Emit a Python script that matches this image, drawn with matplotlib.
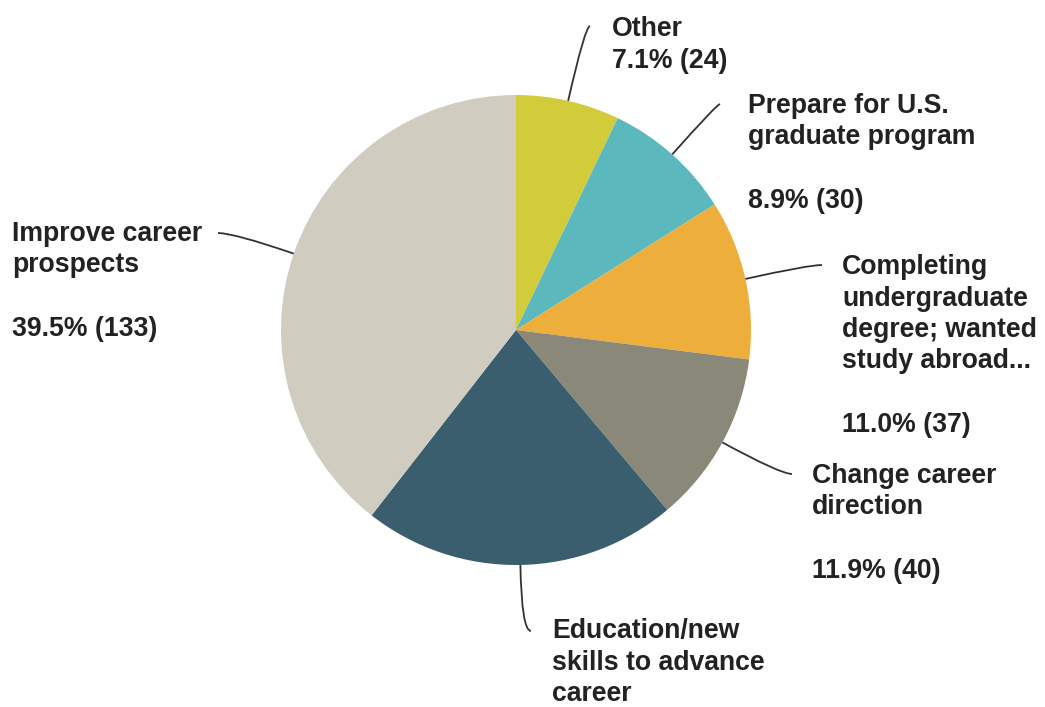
import matplotlib
matplotlib.use('Agg')
import matplotlib.pyplot as plt
import numpy as np
from matplotlib.path import Path
from matplotlib.patches import PathPatch

# --- data ---
categories = ['Other', 'Prepare for U.S. graduate program',
              'Completing undergraduate degree; wanted study abroad...',
              'Change career direction', 'Education/new skills to advance career',
              'Improve career prospects']
counts = [24, 30, 37, 40, 73, 133]
colors = ['#d3cc3a', '#5bb9be', '#edae3b', '#8a8879', '#3a5e6d', '#d0ccc0']

total = sum(counts)
pct = [100.0 * c / total for c in counts]

# label text lines (blank = empty line)
label_lines = [
    ['Other', f'{pct[0]:.1f}% ({counts[0]})'],
    ['Prepare for U.S.', 'graduate program', '', f'{pct[1]:.1f}% ({counts[1]})'],
    ['Completing', 'undergraduate', 'degree; wanted', 'study abroad...', '',
     f'{pct[2]:.1f}% ({counts[2]})'],
    ['Change career', 'direction', '', f'{pct[3]:.1f}% ({counts[3]})'],
    ['Education/new', 'skills to advance', 'career'],
    ['Improve career', 'prospects', '', f'{pct[5]:.1f}% ({counts[5]})'],
]

# --- layout (pixel coords, y down) ---
W, H = 1045, 707
cx, cy, R = 516, 330, 235
label_pos = [(612, 36), (748, 113), (842, 274), (812, 483), (552, 638), (12, 241)]
leader_end = [(590, 26), (720, 104), (822, 265), (792, 474), (531, 631), (218, 233)]
line_step = 31.5

fig = plt.figure(figsize=(W / 100, H / 100), dpi=100)
ax = fig.add_axes([0, 0, 1, 1])

wedges, _ = ax.pie(counts, colors=colors, startangle=90, counterclock=False,
                   center=(cx, H - cy), radius=R, frame=True,
                   wedgeprops=dict(linewidth=0))
ax.set_xlim(0, W)
ax.set_ylim(0, H)
ax.set_aspect('equal')
ax.axis('off')

for w, lines, (lx, ly), (ex, ey) in zip(wedges, label_lines, label_pos, leader_end):
    mid = np.radians((w.theta1 + w.theta2) / 2)
    sx = cx + R * np.cos(mid)
    sy = (H - cy) + R * np.sin(mid)
    ey_d = H - ey
    # control point: radial line meets horizontal through end
    dy = ey_d - sy
    t = dy / np.sin(mid) if abs(np.sin(mid)) > 1e-6 else 0
    ctrl = (sx + t * np.cos(mid), ey_d)
    path = Path([(sx, sy), ctrl, (ex, ey_d)], [Path.MOVETO, Path.CURVE3, Path.CURVE3])
    ax.add_patch(PathPatch(path, fill=False, edgecolor='#333333', lw=1.3))
    for i, s in enumerate(lines):
        if s:
            ax.text(lx, H - (ly + i * line_step), s, ha='left', va='baseline',
                    fontsize=19.2, fontweight='bold', family='Liberation Sans',
                    color='#222222')

fig.savefig('out.png', dpi=100)
